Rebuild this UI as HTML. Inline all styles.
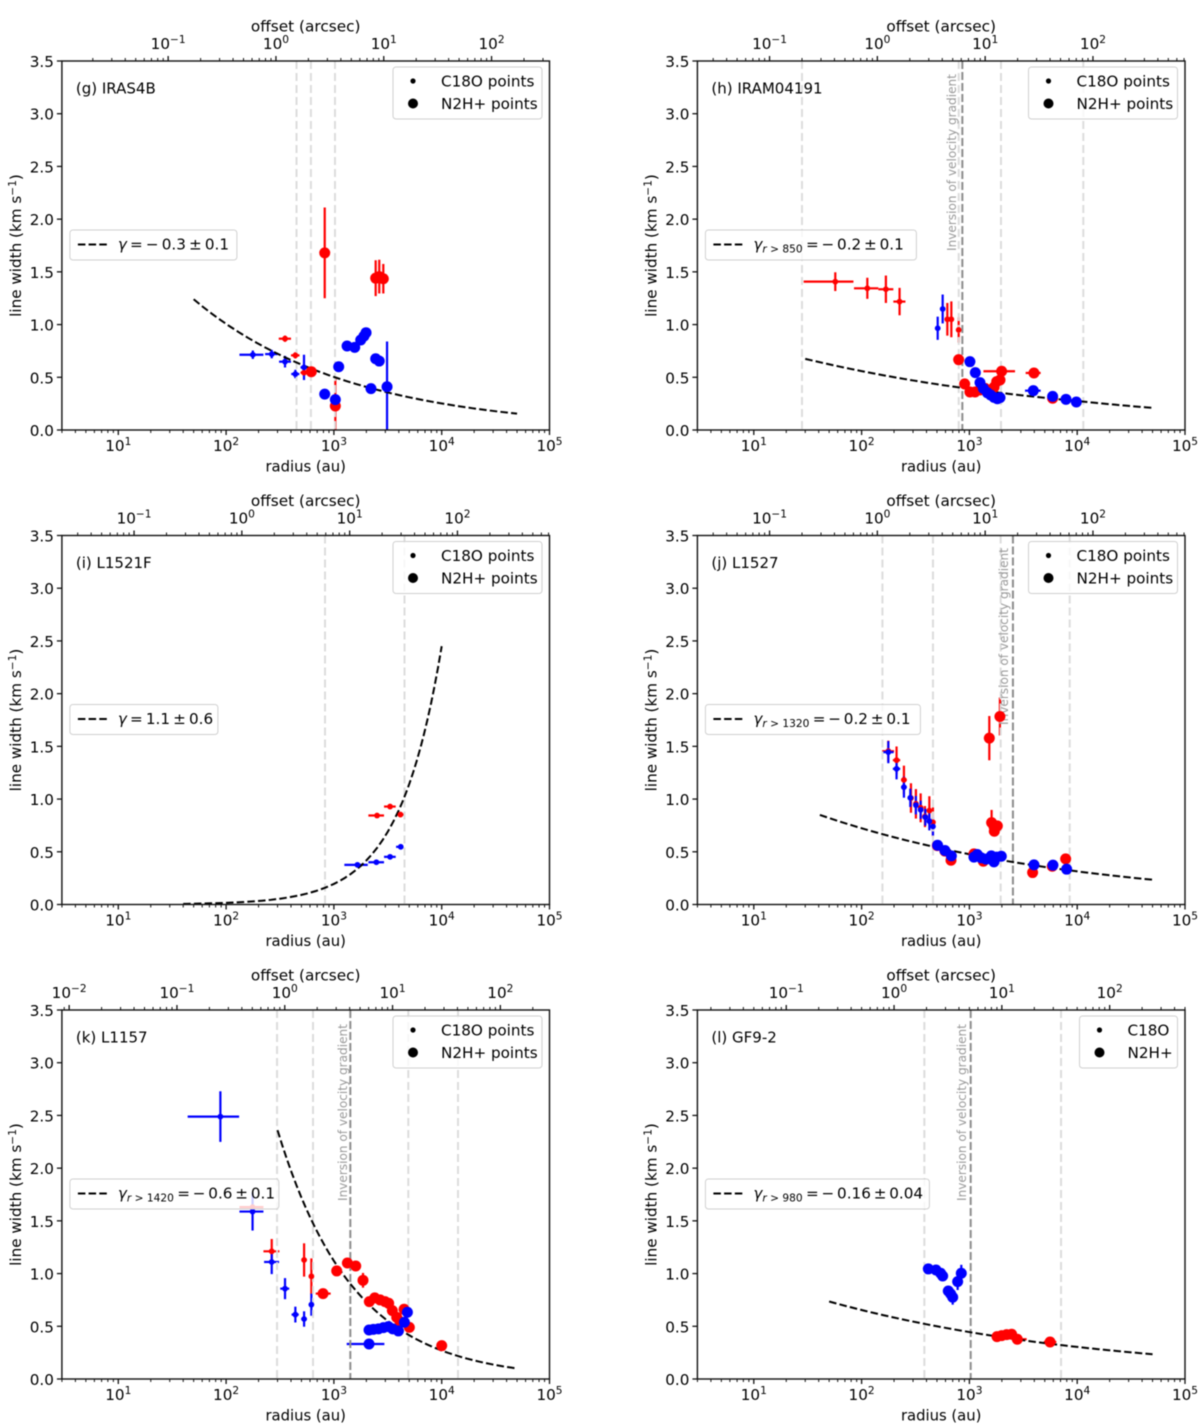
<!DOCTYPE html>
<html lang="en">
<head>
<meta charset="utf-8">
<title>Line width versus radius</title>
<style>
html,body{margin:0;padding:0;background:#fff;width:1200px;height:1426px;overflow:hidden}
svg{display:block;filter:blur(0.45px)}
text{font-family:"DejaVu Sans","Liberation Sans",sans-serif;fill:#000}
</style>
</head>
<body>
<svg id="chart" xmlns="http://www.w3.org/2000/svg" width="1200" height="1426" viewBox="0 0 1200 1426"></svg>
<script>
// Points: [radius, width, radiusLow, radiusHigh, widthError]; radiusLow 0 = no horizontal bar
const gC18oBlue=[[177,.714,133,222,.04],[265,.72,230,300,.04],[352,.648,310,400,.055],[439,.531,402,478,.04],[528,.594,490,570,.12]];
const gC18oRed=[[352,.866,308,400,.03],[439,.708,400,480,.03],[528,.544,490,570,.03]];
const gN2hRed=[[822,1.68,790,850,.43],[617,.553,0,0,0],[1031,.228,0,0,.27],[2441,1.44,0,0,.17],[2635,1.455,0,0,.16],[2873,1.435,0,0,.14]];
const gN2hBlue=[[822,.34,770,860,.02],[1031,.288,0,0,.03],[1108,.6,1040,1170,.02],[1325,.797,0,0,0],[1560,.784,0,0,.03],[1773,.854,0,0,.03],[1900,.89,0,0,0],[1987,.923,0,0,.02],[2208,.392,0,0,0],[2441,.676,0,0,0],[2635,.654,0,0,.03],[3112,.41,0,0,.43]];
const gFitR=[50,500,5000,50000];
const gFitW=[1.24,.62,.31,.155];
const gGuides=[450,612,1023];

const hC18oBlue=[[508,.965,490,526,.11],[565,1.148,545,585,.137]];
const hC18oRed=[[57,1.407,29,84,.089],[113,1.344,85,143,.1],[168,1.335,143,197,.13],[225,1.218,197,255,.13],[624,1.05,595,655,.155],[680,1.05,650,710,.17],[795,.949,770,820,.12]];
const hN2hRed=[[795,.667,0,0,0],[904,.437,0,0,0],[1011,.361,0,0,0],[1127,.361,0,0,0],[1254,.38,0,0,0],[1396,.395,0,0,0],[1692,.405,0,0,0],[1791,.459,0,0,0],[1923,.474,0,0,0],[1990,.557,1349,2650,0],[3971,.541,3326,4581,0],[5915,.301,0,0,0]];
const hN2hBlue=[[1011,.648,0,0,0],[1135,.544,0,0,0],[1254,.449,0,0,0],[1346,.395,0,0,0],[1466,.354,0,0,0],[1574,.332,0,0,0],[1692,.31,0,0,0],[1817,.297,0,0,0],[1923,.307,0,0,0],[3917,.373,3280,4581,0],[5915,.319,0,0,0],[7870,.291,0,0,0],[9820,.266,0,0,0]];
const hFitR=[30,300,1000,3000,10000,50000];
const hFitW=[.675,.47,.39,.33,.275,.21];
const hGuides=[28,796,1963,11390];
const hInversion=[860];

const iC18oBlue=[[1653,.376,1250,2062,.01],[2477,.401,2089,2917,.01],[3319,.452,2917,3745,.01],[4169,.547,3773,4420,.01]];
const iC18oRed=[[2513,.844,2089,2917,.01],[3319,.929,2917,3745,.01],[4140,.853,3773,4420,.01]];
const iFitR=[40,100,1000,4000,10000];
const iFitW=[.006,.0155,.195,.894,2.45];
const iGuides=[827,4519];

const jC18oBlue=[[177,1.445,158,198,.105],[211,1.287,195,228,.1],[247,1.113,232,262,.1],[283,1.012,270,296,.087],[319,.942,305,333,.087],[353,.898,340,366,.087],[390,.828,378,402,.08],[425,.79,413,437,.087],[459,.74,445,472,.087]];
const jC18oRed=[[177,1.454,155,200,.1],[211,1.369,195,228,.13],[247,1.182,232,262,.135],[287,1.01,274,300,.14],[319,.955,305,333,.14],[353,.917,340,366,.137],[387,.834,375,400,.1],[425,.891,413,437,.136],[459,.78,445,472,.14]];
const jN2hRed=[[1530,1.578,0,0,.21],[1919,1.783,0,0,.18],[1607,.777,0,0,.12],[1690,.74,0,0,.05],[1816,.746,0,0,.04],[1703,.695,0,0,.05],[675,.42,0,0,0],[593,.506,0,0,0],[504,.559,0,0,0],[1102,.48,0,0,0],[1208,.461,0,0,0],[1346,.41,0,0,0],[1530,.436,0,0,0],[1664,.423,0,0,0],[3858,.303,0,0,0],[5873,.363,0,0,0],[7815,.433,0,0,0]];
const jN2hBlue=[[507,.562,0,0,0],[593,.512,0,0,0],[680,.461,0,0,0],[1102,.449,0,0,0],[1183,.474,0,0,0],[1288,.442,0,0,0],[1426,.43,0,0,0],[1596,.461,0,0,0],[1690,.404,0,0,0],[1787,.449,0,0,0],[1977,.458,0,0,0],[3973,.376,0,0,0],[5957,.373,0,0,0],[7980,.335,0,0,0]];
const jFitR=[41,200,1000,5000,50000];
const jFitW=[.85,.638,.477,.356,.235];
const jGuides=[156,459,1950,8520];
const jInversion=[2534];

const kC18oBlue=[[88.5,2.489,44,132,.24],[176,1.588,133,222,.18],[265,1.11,225,310,.115],[352,.857,318,385,.1],[439,.611,405,472,.075],[529,.569,498,560,.073],[618,.705,590,650,.105]];
const kC18oRed=[[176,1.63,133,222,.02],[265,1.211,222,312,.117],[529,1.129,500,560,.158],[618,.974,595,640,.17]];
const kN2hRed=[[793,.81,678,933,.02],[1062,1.025,960,1170,.02],[1334,1.1,0,0,0],[1594,1.072,0,0,0],[1862,.936,0,0,.07],[2132,.734,0,0,0],[2392,.769,0,0,0],[2682,.75,0,0,0],[2979,.734,0,0,0],[3222,.718,0,0,0],[3485,.649,0,0,0],[3826,.585,0,0,0],[4100,.544,0,0,0],[4475,.661,0,0,0],[5010,.49,4500,5500,0],[10000,.316,0,0,0]];
const kN2hBlue=[[2118,.332,1315,2939,0],[2118,.465,0,0,0],[2325,.471,0,0,0],[2590,.475,0,0,0],[2880,.487,0,0,0],[3200,.497,0,0,0],[3513,.475,0,0,0],[3966,.456,0,0,0],[4508,.538,0,0,0],[4806,.633,0,0,0]];
const kFitR=[300,1000,3000,10000,50000];
const kFitW=[2.36,1.12,.569,.27,.1];
const kGuides=[297,640,4900,14170];
const kInversion=[1420];

const lN2hBlue=[[416,1.044,0,0,0],[490,1.034,0,0,0],[541,1.003,0,0,0],[565,.977,0,0,0],[637,.835,0,0,.03],[670,.807,0,0,.03],[700,.775,0,0,.07],[778,.924,0,0,.08],[841,1.003,0,0,.08]];
const lN2hRed=[[1803,.402,0,0,0],[1992,.411,0,0,0],[2215,.421,0,0,0],[2465,.424,0,0,0],[2782,.377,2600,3400,0],[5600,.351,4900,6400,0]];
const lFitR=[50,500,5000,50000];
const lFitW=[.735,.5,.34,.235];
const lGuides=[382,7080];
const lInversion=[1028];

const yTickLabels=["0.0","0.5","1.0","1.5","2.0","2.5","3.0","3.5"];
const yTickValues=[0,.5,1,1.5,2,2.5,3,3.5];
const xDecades=[1,2,3,4,5];
const topDecades=[-3,-2,-1,0,1,2,3];

const panels=[
 {id:'g',title:'(g) IRAS4B',col:0,row:0,dist:290,small:[gC18oRed,gC18oBlue],big:[gN2hRed,gN2hBlue],fitR:gFitR,fitW:gFitW,guides:gGuides,inv:[],sub:'',val:'= − 0.3 ± 0.1',legA:'C18O points',legB:'N2H+ points',fitBoxW:167,textDx:48},
 {id:'h',title:'(h) IRAM04191',col:1,row:0,dist:140,small:[hC18oRed,hC18oBlue],big:[hN2hRed,hN2hBlue],fitR:hFitR,fitW:hFitW,guides:hGuides,inv:hInversion,sub:'> 850',val:'= − 0.2 ± 0.1',legA:'C18O points',legB:'N2H+ points',fitBoxW:211,textDx:48,invX:956,invY:251},
 {id:'i',title:'(i) L1521F',col:0,row:1,dist:140,small:[iC18oRed,iC18oBlue],big:[[],[]],fitR:iFitR,fitW:iFitW,guides:iGuides,inv:[],sub:'',val:'= 1.1 ± 0.6',legA:'C18O points',legB:'N2H+ points',fitBoxW:148,textDx:48},
 {id:'j',title:'(j) L1527',col:1,row:1,dist:140,small:[jC18oRed,jC18oBlue],big:[jN2hRed,jN2hBlue],fitR:jFitR,fitW:jFitW,guides:jGuides,inv:jInversion,sub:'> 1320',val:'= − 0.2 ± 0.1',legA:'C18O points',legB:'N2H+ points',fitBoxW:215,textDx:48,invX:1008,invY:725},
 {id:'k',title:'(k) L1157',col:0,row:2,dist:350,small:[kC18oRed,kC18oBlue],big:[kN2hRed,kN2hBlue],fitR:kFitR,fitW:kFitW,guides:kGuides,inv:kInversion,sub:'> 1420',val:'= − 0.6 ± 0.1',legA:'C18O points',legB:'N2H+ points',fitBoxW:209,textDx:48,invX:347,invY:1201},
 {id:'l',title:'(l) GF9-2',col:1,row:2,dist:200,small:[[],[]],big:[lN2hRed,lN2hBlue],fitR:lFitR,fitW:lFitW,guides:lGuides,inv:lInversion,sub:'> 980',val:'= − 0.16 ± 0.04',legA:'C18O',legB:'N2H+',fitBoxW:224,textDx:48,invX:966,invY:1201}
];

const NS='http://www.w3.org/2000/svg';
const svg=document.getElementById('chart');
function mk(parent,tag,attrs,txt){
  const el=document.createElementNS(NS,tag);
  for(const k in attrs) el.setAttribute(k,attrs[k]);
  if(txt!==undefined) el.textContent=txt;
  parent.appendChild(el);
  return el;
}
const colRight=[549.5,1185];
const rowBottom=[430,904.5,1379];
const DECADE=107.8, PLOT_H=369, PLOT_W=487.6;
const FS=15.2;

function drawPower(g,x,y,exp,anchor,sizeSmall){
  const t=mk(g,'text',{x:x,y:y,'text-anchor':anchor,'font-size':FS});
  
  
  mk(t,'tspan',{},'10');
  mk(t,'tspan',{dy:-6,'font-size':sizeSmall},String(exp).replace('-','−'));
}

panels.forEach(function(p){
  const right=colRight[p.col], bottom=rowBottom[p.row], left=right-PLOT_W, top=bottom-PLOT_H;
  const xS=function(r){return right-(5-Math.log10(r))*DECADE;};
  const yS=function(v){return bottom-Math.min(3.5,Math.max(0,v))*(PLOT_H/3.5);};
  const cx=(left+right)/2;

  const g=mk(svg,'g',{});
  
  

  // error bars
  const drawErr=function(pts,color){
    pts.forEach(function(d){
      if(d[2]>0){
        const l=mk(g,'line',{x1:xS(d[2]),x2:xS(d[3]),y1:yS(d[1]),y2:yS(d[1]),stroke:color,'stroke-width':2.2});
        
        
      }
      if(d[4]>0){
        const l=mk(g,'line',{x1:xS(d[0]),x2:xS(d[0]),y1:yS(d[1]-d[4]),y2:yS(d[1]+d[4]),stroke:color,'stroke-width':2.2});
        
        
      }
    });
  };
  drawErr(p.small[0],'#ff0000');
  drawErr(p.small[1],'#0000ff');
  drawErr(p.big[0],'#ff0000');
  drawErr(p.big[1],'#0000ff');

  // guide lines
  p.guides.forEach(function(r){
    const l=mk(g,'line',{x1:xS(r),x2:xS(r),y1:top,y2:bottom,stroke:'#dcdcdc','stroke-width':2,'stroke-dasharray':'8 4'});
    
    
  });
  p.inv.forEach(function(r){
    const l=mk(g,'line',{x1:xS(r),x2:xS(r),y1:top,y2:bottom,stroke:'#8c8c8c','stroke-width':2,'stroke-dasharray':'8 3'});
    
    
    const t=mk(g,'text',{transform:'translate('+p.invX+','+p.invY+') rotate(-90)','font-size':12.1,style:'fill:#9a9a9a'},'Inversion of velocity gradient');
    
    
  });

  // fit curve: power-law segments between sampled values
  let path='';
  for(let i=0;i<p.fitR.length-1;i++){
    const r0=Math.log10(p.fitR[i]),r1=Math.log10(p.fitR[i+1]);
    const w0=Math.log10(p.fitW[i]),w1=Math.log10(p.fitW[i+1]);
    for(let s=(i?1:0);s<=12;s++){
      const f=s/12;
      path+=(path?'L':'M')+xS(Math.pow(10,r0+(r1-r0)*f)).toFixed(2)+' '+yS(Math.pow(10,w0+(w1-w0)*f)).toFixed(2);
    }
  }
  const fit=mk(g,'path',{d:path,fill:'none',stroke:'#000','stroke-width':2,'stroke-dasharray':'7.5 3.2'});
  
  

  // markers
  const drawPts=function(pts,color,rad,name){
    pts.forEach(function(d){
      const c=mk(g,'circle',{cx:xS(d[0]),cy:yS(d[1]),r:rad,fill:color});
      
      
    });
  };
  drawPts(p.small[0],'#ff0000',2.9,'c18o-red-point');
  drawPts(p.small[1],'#0000ff',2.9,'c18o-blue-point');
  drawPts(p.big[0],'#ff0000',5.5,'n2h-red-point');
  drawPts(p.big[1],'#0000ff',5.5,'n2h-blue-point');

  // spines
  const box=mk(g,'rect',{x:left,y:top,width:PLOT_W,height:PLOT_H,fill:'none',stroke:'#111','stroke-width':1.4});
  
  

  // y ticks
  yTickValues.forEach(function(v,i){
    const y=yS(v);
    const tk=mk(g,'line',{x1:left-5,x2:left,y1:y,y2:y,stroke:'#111','stroke-width':1.3});
    
    
    const t=mk(g,'text',{x:left-8,y:y+6,'text-anchor':'end','font-size':FS},yTickLabels[i]);
    
    
  });

  // bottom axis
  const logMin=Math.log10(3);
  for(let e=0;e<=4;e++){
    for(let m=1;m<=9;m++){
      const lv=e+Math.log10(m);
      if(lv<logMin-1e-9) continue;
      const x=xS(Math.pow(10,lv)), len=(m===1)?5:3;
      const tk=mk(g,'line',{x1:x,x2:x,y1:bottom,y2:bottom+len,stroke:'#111','stroke-width':m===1?1.3:1});
      
      
    }
  }
  const tk5=mk(g,'line',{x1:right,x2:right,y1:bottom,y2:bottom+5,stroke:'#111','stroke-width':1.3});
  
  
  xDecades.forEach(function(e){
    drawPower(g,xS(Math.pow(10,e)),bottom+21,e,'middle',10.6);
  });

  // top axis
  const rMin=3,rMax=100000;
  topDecades.forEach(function(e){
    for(let m=1;m<=9;m++){
      const r=m*Math.pow(10,e)*p.dist;
      if(r<rMin||r>rMax) continue;
      const x=xS(r), len=(m===1)?5:3;
      const tk=mk(g,'line',{x1:x,x2:x,y1:top-len,y2:top,stroke:'#111','stroke-width':m===1?1.3:1});
      
      
      if(m===1) drawPower(g,x,top-12,e,'middle',10.6);
    }
  });

  // axis titles
  const xt=mk(g,'text',{x:cx,y:bottom+41.5,'text-anchor':'middle','font-size':14.8},'radius (au)');
  
  
  const tt=mk(g,'text',{x:cx,y:top-29.5,'text-anchor':'middle','font-size':15.3},'offset (arcsec)');
  
  
  const yt=mk(g,'text',{transform:'translate('+(left-41)+','+(top+PLOT_H/2)+') rotate(-90)','text-anchor':'middle','font-size':15.2});
  
  
  mk(yt,'tspan',{},'line width (km s');
  mk(yt,'tspan',{dy:-5,'font-size':10.6},'−1');
  mk(yt,'tspan',{dy:5},')');

  // panel label
  const pl=mk(g,'text',{x:left+14,y:top+32.5,'font-size':15},p.title);
  
  

  // marker legend
  const lw=p.legA==='C18O'?98:149;
  const lx=right-7.5-lw, ly=top+6;
  const lg=mk(g,'g',{});
  
  
  const lr=mk(lg,'rect',{x:lx,y:ly,width:lw,height:52,rx:3,fill:'#fff','fill-opacity':.8,stroke:'#d0d0d0','stroke-width':1});
  
  
  const s1=mk(lg,'circle',{cx:lx+20,cy:ly+14,r:2.6,fill:'#000'});
  
  
  const s2=mk(lg,'circle',{cx:lx+20,cy:ly+36.5,r:5,fill:'#000'});
  
  
  const t1=mk(lg,'text',{x:lx+48,y:ly+19.5,'font-size':FS},p.legA);
  
  
  const t2=mk(lg,'text',{x:lx+48,y:ly+42,'font-size':FS},p.legB);
  
  

  // fit legend
  const fx=left+8, fy=top+169;
  const fg=mk(g,'g',{});
  
  
  const fr=mk(fg,'rect',{x:fx,y:fy,width:p.fitBoxW,height:30,rx:3,fill:'#fff','fill-opacity':.8,stroke:'#d0d0d0','stroke-width':1});
  
  
  const fl=mk(fg,'line',{x1:fx+8,x2:fx+40,y1:fy+14.5,y2:fy+14.5,stroke:'#000','stroke-width':2,'stroke-dasharray':'7.5 3.2'});
  
  
  const ft=mk(fg,'text',{x:fx+p.textDx,y:fy+19.5,'font-size':FS});
  
  
  mk(ft,'tspan',{'font-style':'italic'},'γ');
  if(p.sub){
    mk(ft,'tspan',{dy:3,'font-size':10.6,'font-style':'italic'},'r');
    mk(ft,'tspan',{'font-size':10.6},' '+p.sub+' ');
    mk(ft,'tspan',{dy:-3,'word-spacing':'-2px'},p.val);
  } else {
    mk(ft,'tspan',{'word-spacing':'-1.7px'},' '+p.val);
  }
});
</script>
</body>
</html>
